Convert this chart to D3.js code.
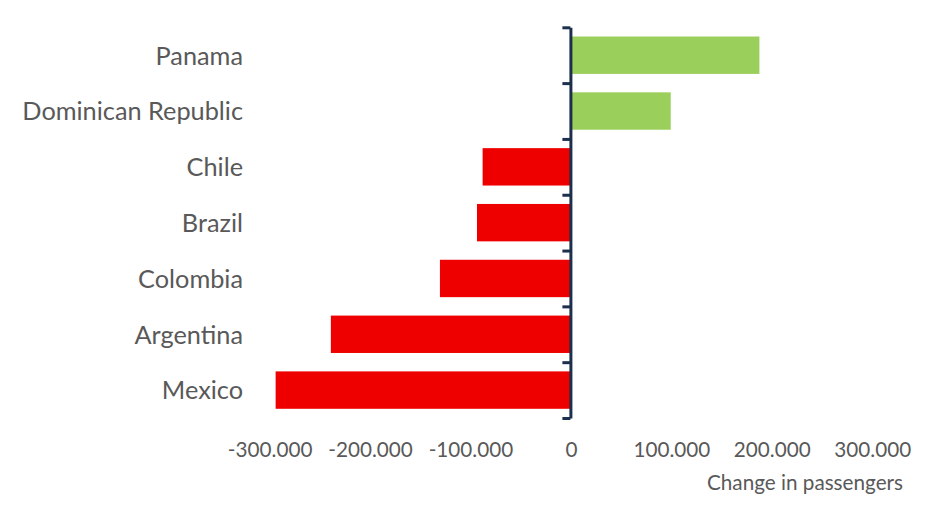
<!DOCTYPE html>
<html>
<head>
<meta charset="utf-8">
<script src="https://cdn.jsdelivr.net/npm/d3@7"></script>
<style>
  html, body { margin: 0; padding: 0; background: #ffffff; }
  svg { display: block; }
</style>
</head>
<body>
<div id="chart"></div>
<script>
// ---- data ----
const categories = ["Panama", "Dominican Republic", "Chile", "Brazil", "Colombia", "Argentina", "Mexico"];
const values = [187700, 99400, -87900, -93500, -130400, -239000, -294000];
const xTicks = [-300000, -200000, -100000, 0, 100000, 200000, 300000];
const axisTitle = "Change in passengers";

// ---- layout ----
const W = 929, H = 516;
const FONT = "Lato, 'Open Sans', sans-serif";
const TEXT = "#595959";
const AXIS = "#1c2f4c";
const POS = "#9bcf5b";
const NEG = "#ee0000";

const svg = d3.select("#chart").append("svg")
  .attr("width", W).attr("height", H);

const x = d3.scaleLinear().domain([-300000, 300000]).range([269.6, 872.2]);
const yTop = 27.3, yBot = 418;
const y = d3.scaleBand().domain(categories).range([yTop, yBot])
  .paddingInner(0.33).paddingOuter(0.165);
const yIdx = d3.scaleLinear().domain([0, categories.length]).range([yTop, yBot]);

const loc = d3.formatLocale({ decimal: ",", thousands: ".", grouping: [3], currency: ["", ""], minus: "-" });
const fmt = loc.format(",");

// bars
svg.append("g").selectAll("rect")
  .data(categories.map((c, i) => ({ c, v: values[i] })))
  .join("rect")
  .attr("x", d => x(Math.min(0, d.v)))
  .attr("width", d => Math.abs(x(d.v) - x(0)))
  .attr("y", d => y(d.c))
  .attr("height", y.bandwidth())
  .attr("fill", d => d.v >= 0 ? POS : NEG);

// category labels
svg.append("g").selectAll("text")
  .data(categories)
  .join("text")
  .attr("x", 243)
  .attr("y", d => y(d) + y.bandwidth() / 2 + 9.3)
  .attr("text-anchor", "end")
  .attr("font-family", FONT)
  .attr("font-size", 25.3)
  .attr("fill", TEXT)
  .text(d => d);

// vertical axis at zero with boundary ticks
const yAxis = d3.axisLeft(yIdx)
  .tickValues(d3.range(categories.length + 1))
  .tickFormat("")
  .tickSize(8)
  .tickSizeOuter(0);
const gy = svg.append("g")
  .attr("transform", `translate(${x(0) - 0.5},0)`)
  .call(yAxis);
gy.selectAll("path, line")
  .attr("stroke", AXIS)
  .attr("stroke-width", 3);

// x tick labels (no axis line)
const xAxis = d3.axisBottom(x).tickValues(xTicks).tickFormat(fmt).tickSize(0).tickPadding(0);
const gx = svg.append("g")
  .attr("transform", "translate(0,456.5)")
  .call(xAxis);
gx.select(".domain").remove();
gx.selectAll("text")
  .attr("dy", null)
  .attr("y", 0)
  .attr("font-family", FONT)
  .attr("font-size", 20.7)
  .attr("fill", TEXT);

// axis title
svg.append("text")
  .attr("x", 903)
  .attr("y", 489.5)
  .attr("text-anchor", "end")
  .attr("font-family", FONT)
  .attr("font-size", 20.7)
  .attr("fill", TEXT)
  .text(axisTitle);
</script>
</body>
</html>
